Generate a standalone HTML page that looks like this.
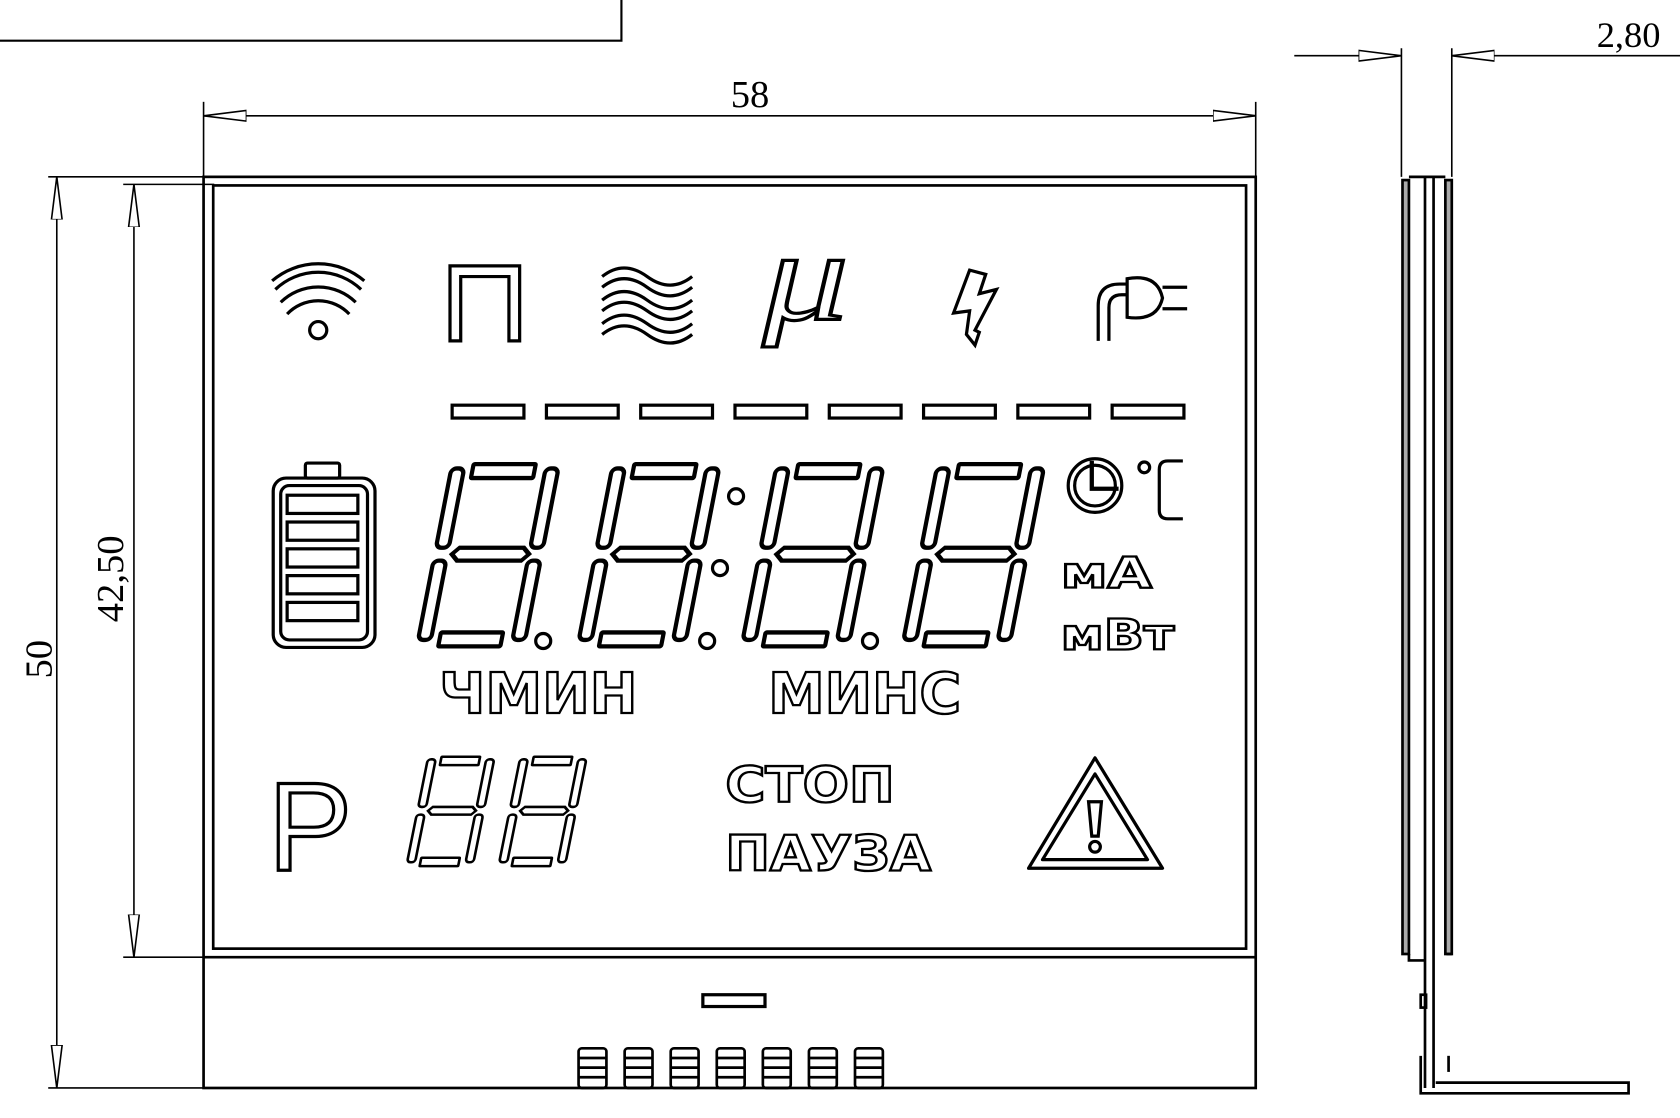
<!DOCTYPE html>
<html><head><meta charset="utf-8"><style>
html,body{margin:0;padding:0;background:#fff;}
svg{display:block;}
</style></head><body>
<svg width="1680" height="1118" viewBox="0 0 1568 1043" preserveAspectRatio="none" xmlns="http://www.w3.org/2000/svg">
<defs>
<g id="dig" fill="none" stroke="#000" stroke-width="4">
  <g transform="skewX(-11)">
    <rect x="22" y="-170" width="58" height="13" rx="1"/>
    <rect x="90" y="-166" width="12" height="74" rx="5"/>
    <rect x="90" y="-80" width="12" height="74" rx="5"/>
    <rect x="2" y="-166" width="12" height="74" rx="5"/>
    <rect x="2" y="-80" width="12" height="74" rx="5"/>
    <polygon points="18,-86 24,-92 84,-92 90,-86 84,-80 24,-80"/>
    <rect x="22" y="-13" width="58" height="13" rx="1"/>
  </g>
</g>
<g id="pin" fill="none" stroke="#000" stroke-width="2.5">
  <rect x="0" y="0" width="26" height="37" rx="3"/>
  <line x1="0" y1="9" x2="26" y2="9"/><line x1="0" y1="18" x2="26" y2="18"/><line x1="0" y1="27" x2="26" y2="27"/>
</g>
<marker id="ar" viewBox="0 0 40 12" refX="40" refY="6" markerWidth="40" markerHeight="12" markerUnits="userSpaceOnUse" orient="auto-start-reverse">
  <path d="M0,1 L40,6 L0,11 Z" fill="#fff" stroke="#000" stroke-width="1.5"/>
</marker>
</defs>
<rect width="1568" height="1043" fill="#fff"/>

<path d="M0,38 H580 V0" fill="none" stroke="#000" stroke-width="2"/>

<line x1="190" y1="95" x2="190" y2="165" stroke="#000" stroke-width="1.5"/>
<line x1="1172" y1="95" x2="1172" y2="165" stroke="#000" stroke-width="1.5"/>
<line x1="190" y1="108" x2="1172" y2="108" stroke="#000" stroke-width="1.5" marker-start="url(#ar)" marker-end="url(#ar)"/>
<text x="700" y="100" font-family="Liberation Serif, serif" font-size="36" text-anchor="middle">58</text>

<line x1="45" y1="165" x2="190" y2="165" stroke="#000" stroke-width="1.5"/>
<line x1="45" y1="1015" x2="190" y2="1015" stroke="#000" stroke-width="1.5"/>
<line x1="53" y1="165" x2="53" y2="1015" stroke="#000" stroke-width="1.5" marker-start="url(#ar)" marker-end="url(#ar)"/>
<text x="48" y="615" font-family="Liberation Serif, serif" font-size="36" text-anchor="middle" transform="rotate(-90 48 615)">50</text>

<line x1="115" y1="172" x2="200" y2="172" stroke="#000" stroke-width="1.5"/>
<line x1="115" y1="893" x2="200" y2="893" stroke="#000" stroke-width="1.5"/>
<line x1="125" y1="172" x2="125" y2="893" stroke="#000" stroke-width="1.5" marker-start="url(#ar)" marker-end="url(#ar)"/>
<text x="115" y="540" font-family="Liberation Serif, serif" font-size="36" text-anchor="middle" transform="rotate(-90 115 540)">42,50</text>

<rect x="190" y="165" width="982" height="850" fill="none" stroke="#000" stroke-width="2.5"/>
<rect x="199" y="173" width="964" height="712" fill="none" stroke="#000" stroke-width="2.5"/>
<line x1="190" y1="893" x2="1172" y2="893" stroke="#000" stroke-width="2.5"/>
<rect x="656" y="928" width="58" height="11" fill="none" stroke="#000" stroke-width="3"/>
<use href="#pin" x="540" y="978"/><use href="#pin" x="583" y="978"/><use href="#pin" x="626" y="978"/>
<use href="#pin" x="669" y="978"/><use href="#pin" x="712" y="978"/><use href="#pin" x="755" y="978"/><use href="#pin" x="798" y="978"/>

<g fill="none" stroke="#000" stroke-width="3">
  <circle cx="297" cy="308" r="8"/>
  <path d="M262,282 A50,50 0 0 1 332,282"/>
  <path d="M257,270 A58,58 0 0 1 337,270"/>
  <path d="M268,293 A40,40 0 0 1 326,293"/>
  <path d="M254,262 A66,66 0 0 1 340,262"/>
  <path d="M420,318 V248 H485 V318 H475 V258 H430 V318 Z"/>
  <path d="M562,258 q20,-16 42,0 t42,0"/><path d="M562,268 q20,-16 42,0 t42,0"/>
  <path d="M562,280 q20,-16 42,0 t42,0"/><path d="M562,290 q20,-16 42,0 t42,0"/>
  <path d="M562,302 q20,-16 42,0 t42,0"/><path d="M562,312 q20,-16 42,0 t42,0"/>
  <path d="M905,252 L890,292 L905,290 L902,312 L910,322 L914,310 L910,308 L930,270 L914,274 L920,256 Z"/>
  <path d="M1025,318 V285 Q1025,265 1045,265 H1052"/>
  <path d="M1035,318 V287 Q1035,275 1047,275 H1052"/>
  <path d="M1052,260 Q1080,255 1085,278 Q1080,300 1052,296 Z"/>
  <path d="M1085,268 H1108 M1085,288 H1108"/>
  <rect x="422" y="378" width="67" height="12"/><rect x="510" y="378" width="67" height="12"/>
  <rect x="598" y="378" width="67" height="12"/><rect x="686" y="378" width="67" height="12"/>
  <rect x="774" y="378" width="67" height="12"/><rect x="862" y="378" width="67" height="12"/>
  <rect x="950" y="378" width="67" height="12"/><rect x="1038" y="378" width="67" height="12"/>
  <rect x="285" y="432" width="32" height="14" rx="2"/>
  <rect x="255" y="446" width="95" height="158" rx="12"/>
  <rect x="262" y="453" width="81" height="144" rx="8"/>
  <rect x="268" y="462" width="66" height="17"/><rect x="268" y="487" width="66" height="17"/>
  <rect x="268" y="512" width="66" height="17"/><rect x="268" y="537" width="66" height="17"/>
  <rect x="268" y="562" width="66" height="17"/>
  <circle cx="687" cy="463" r="7"/><circle cx="672" cy="530" r="7"/>
  <circle cx="507" cy="598" r="7"/><circle cx="660" cy="598" r="7"/><circle cx="812" cy="598" r="7"/>
  <circle cx="1022" cy="453" r="25"/><circle cx="1022" cy="453" r="19"/>
  <path d="M1019,430 V456 H1044" stroke-width="4"/>
  <circle cx="1068" cy="436" r="5"/>
  <path d="M1104,430 H1090 Q1082,430 1082,438 V476 Q1082,484 1090,484 H1104"/>
  <path d="M1022,707 L1085,810 H960 Z" stroke-linejoin="round"/>
  <path d="M1022,722 L1071,802 H973 Z" stroke-linejoin="round"/>
  <path d="M1016,748 H1028 L1025,780 H1019 Z"/><circle cx="1022" cy="790" r="5"/>
</g>
<text x="712" y="298" font-family="Liberation Serif, serif" font-style="italic" font-size="120" fill="#fff" stroke="#000" stroke-width="3" textLength="80" lengthAdjust="spacingAndGlyphs">μ</text>

<use href="#dig" x="387" y="603"/>
<use href="#dig" x="537" y="603"/>
<use href="#dig" x="690" y="603"/>
<use href="#dig" x="840" y="603"/>
<use href="#dig" transform="translate(378 808) scale(0.62 0.6)"/>
<use href="#dig" transform="translate(464 808) scale(0.62 0.6)"/>

<g font-family="DejaVu Sans, Liberation Sans, sans-serif" font-weight="bold" fill="#fff" stroke="#000" stroke-width="2.2">
  <text x="410" y="665" font-size="52" textLength="185" lengthAdjust="spacingAndGlyphs">ЧМИН</text>
  <text x="717" y="665" font-size="52" textLength="180" lengthAdjust="spacingAndGlyphs">МИНС</text>
  <text x="677" y="748" font-size="46" textLength="158" lengthAdjust="spacingAndGlyphs">СТОП</text>
  <text x="677" y="812" font-size="46" textLength="192" lengthAdjust="spacingAndGlyphs">ПАУЗА</text>
  <text x="990" y="548" font-size="40" textLength="85" lengthAdjust="spacingAndGlyphs">мА</text>
  <text x="990" y="606" font-size="40" textLength="106" lengthAdjust="spacingAndGlyphs">мВт</text>
</g>
<text x="250" y="812" font-family="Liberation Sans, sans-serif" font-size="118" fill="#fff" stroke="#000" stroke-width="3">P</text>

<line x1="1208" y1="52" x2="1308" y2="52" stroke="#000" stroke-width="1.5" marker-end="url(#ar)"/>
<line x1="1568" y1="52" x2="1355" y2="52" stroke="#000" stroke-width="1.5" marker-end="url(#ar)"/>
<line x1="1308" y1="45" x2="1308" y2="165" stroke="#000" stroke-width="1.5"/>
<line x1="1355" y1="45" x2="1355" y2="165" stroke="#000" stroke-width="1.5"/>
<text x="1520" y="44" font-family="Liberation Serif, serif" font-size="34" text-anchor="middle">2,80</text>
<g fill="none" stroke="#000" stroke-width="2.5">
  <rect x="1309" y="168" width="6" height="722" fill="#aaa"/>
  <rect x="1349" y="168" width="6" height="722" fill="#aaa"/>
  <line x1="1330" y1="165" x2="1330" y2="1015"/>
  <line x1="1338" y1="165" x2="1338" y2="1015"/>
  <line x1="1315" y1="165" x2="1349" y2="165"/>
  <path d="M1315,890 V896 H1330"/>
  <path d="M1355,890 H1350"/>
  <rect x="1326" y="928" width="5" height="12"/>
  <path d="M1326,985 V1020 H1520 V1010 H1340"/>
  <path d="M1352,985 V1000"/>
</g>
</svg>
</body></html>
